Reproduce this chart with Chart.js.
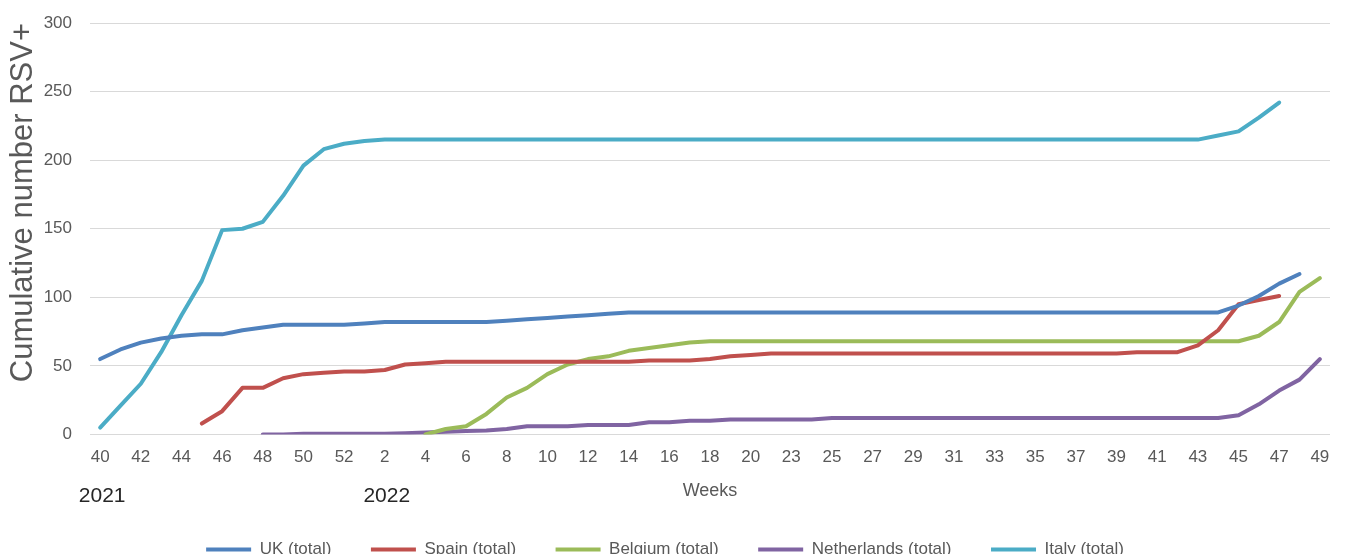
<!DOCTYPE html>
<html>
<head>
<meta charset="utf-8">
<script src="https://cdn.jsdelivr.net/npm/chart.js@4.4.1/dist/chart.umd.min.js"></script>
<style>
  html, body { margin: 0; padding: 0; background: #fff; overflow: hidden; }
  #wrap { width: 1346px; height: 568px; position: relative; }
</style>
</head>
<body>
<div id="wrap"><canvas id="rsvChart"></canvas></div>
<script>
// ---------- DATA ----------
const weeks = [
  "40", "41", "42", "43", "44", "45", "46", "47", "48", "49", "50", "51", "52",
  "1", "2", "3", "4", "5", "6", "7", "8", "9", "10", "11", "12", "13", "14", "15", "16", "17", "18", "19", "20",
  "22", "23", "24", "25", "26", "27", "28", "29", "30", "31", "32", "33", "34", "35", "36", "37", "38", "39",
  "40", "41", "42", "43", "44", "45", "46", "47", "48", "49"
];

const ukTotal = [
  55, 62, 67, 70, 72, 73, 73, 76, 78, 80, 80, 80, 80,
  81, 82, 82, 82, 82, 82, 82, 83, 84, 85, 86, 87, 88, 89, 89, 89, 89, 89, 89, 89,
  89, 89, 89, 89, 89, 89, 89, 89, 89, 89, 89, 89, 89, 89, 89, 89, 89, 89,
  89, 89, 89, 89, 89, 94, 101, 110, 117, null
];

const spainTotal = [
  null, null, null, null, null, 8, 17, 34, 34, 41, 44, 45, 46,
  46, 47, 51, 52, 53, 53, 53, 53, 53, 53, 53, 53, 53, 53, 54, 54, 54, 55, 57, 58,
  59, 59, 59, 59, 59, 59, 59, 59, 59, 59, 59, 59, 59, 59, 59, 59, 59, 59,
  60, 60, 60, 65, 76, 95, 98, 101, null, null
];

const belgiumTotal = [
  null, null, null, null, null, null, null, null, null, null, null, null, null,
  null, null, null, 0, 4, 6, 15, 27, 34, 44, 51, 55, 57, 61, 63, 65, 67, 68, 68, 68,
  68, 68, 68, 68, 68, 68, 68, 68, 68, 68, 68, 68, 68, 68, 68, 68, 68, 68,
  68, 68, 68, 68, 68, 68, 72, 82, 104, 114
];

const netherlandsTotal = [
  null, null, null, null, null, null, null, null, 0, 0, 0.5, 0.5, 0.5,
  0.5, 0.5, 1, 1.5, 2, 2.5, 3, 4, 6, 6, 6, 7, 7, 7, 9, 9, 10, 10, 11, 11,
  11, 11, 11, 12, 12, 12, 12, 12, 12, 12, 12, 12, 12, 12, 12, 12, 12, 12,
  12, 12, 12, 12, 12, 14, 22, 32, 40, 55
];

const italyTotal = [
  5, 21, 37, 60, 87, 112, 149, 150, 155, 174, 196, 208, 212,
  214, 215, 215, 215, 215, 215, 215, 215, 215, 215, 215, 215, 215, 215, 215, 215, 215, 215, 215, 215,
  215, 215, 215, 215, 215, 215, 215, 215, 215, 215, 215, 215, 215, 215, 215, 215, 215, 215,
  215, 215, 215, 215, 218, 221, 231, 242, null, null
];

const seriesNames = ["UK (total)", "Spain (total)", "Belgium (total)", "Netherlands (total)", "Italy (total)"];
const seriesColors = ["#4f81bd", "#c0504d", "#9bbb59", "#8064a2", "#4bacc6"];

const yearLabels = ["2021", "2022"];
const yearLabelIndex = [0, 14];   // week 40 of 2021, week 2 of 2022

const FONT = "'Liberation Sans', Arial, sans-serif";
const GREY = "#595959";

// ---------- YEAR LABELS UNDER AXIS ----------
const yearLabelPlugin = {
  id: "yearLabels",
  afterDraw(chart) {
    const ctx = chart.ctx;
    const xs = chart.scales.x;
    ctx.save();
    ctx.font = "21px " + FONT;
    ctx.fillStyle = "#262626";
    ctx.textAlign = "center";
    ctx.textBaseline = "middle";
    yearLabels.forEach((txt, i) => {
      ctx.fillText(txt, xs.getPixelForValue(yearLabelIndex[i]) + 2, chart.chartArea.bottom + 62);
    });
    ctx.restore();
  }
};

// ---------- CHART ----------
const allSeries = [ukTotal, spainTotal, belgiumTotal, netherlandsTotal, italyTotal];

new Chart(document.getElementById("rsvChart").getContext("2d"), {
  type: "line",
  data: {
    labels: weeks,
    datasets: allSeries.map((vals, i) => ({
      label: seriesNames[i],
      data: vals,
      borderColor: seriesColors[i],
      backgroundColor: seriesColors[i],
      borderWidth: 4,
      pointRadius: 0,
      tension: 0,
      borderCapStyle: "round",
      borderJoinStyle: "round"
    }))
  },
  options: {
    responsive: true,
    maintainAspectRatio: false,
    animation: false,
    layout: { padding: { top: 23, right: 16, left: 0, bottom: 0 } },
    plugins: {
      legend: {
        position: "bottom",
        labels: {
          boxWidth: 45,
          boxHeight: 4,
          padding: 39.5,
          color: GREY,
          font: { family: FONT, size: 17 },
          generateLabels(chart) {
            return Chart.defaults.plugins.legend.labels.generateLabels(chart).map(l => ({ ...l, lineWidth: 0 }));
          }
        }
      },
      tooltip: { enabled: false }
    },
    scales: {
      x: {
        offset: true,
        grid: { display: false },
        border: { display: false },
        ticks: {
          autoSkip: false,
          maxRotation: 0,
          padding: 5,
          color: GREY,
          font: { family: FONT, size: 17 },
          callback: (val, idx) => (idx % 2 === 0 ? weeks[idx] : "")
        },
        title: {
          display: true,
          text: "Weeks",
          color: GREY,
          font: { family: FONT, size: 18 },
          padding: { top: 7, bottom: 0 }
        }
      },
      y: {
        min: 0,
        max: 300,
        afterFit(scale) {
          scale.width = 90;
          scale.paddingTop = 10;
          scale.paddingBottom = 10;
        },
        grid: { color: "#d9d9d9", lineWidth: 1, drawTicks: false },
        border: { display: false },
        ticks: {
          stepSize: 50,
          padding: 18,
          color: GREY,
          font: { family: FONT, size: 17 }
        },
        title: {
          display: true,
          text: "Cumulative number RSV+",
          align: "end",
          color: GREY,
          font: { family: FONT, size: 31 },
          padding: { top: 5, bottom: 0 }
        }
      }
    }
  },
  plugins: [yearLabelPlugin]
});
</script>
</body>
</html>
